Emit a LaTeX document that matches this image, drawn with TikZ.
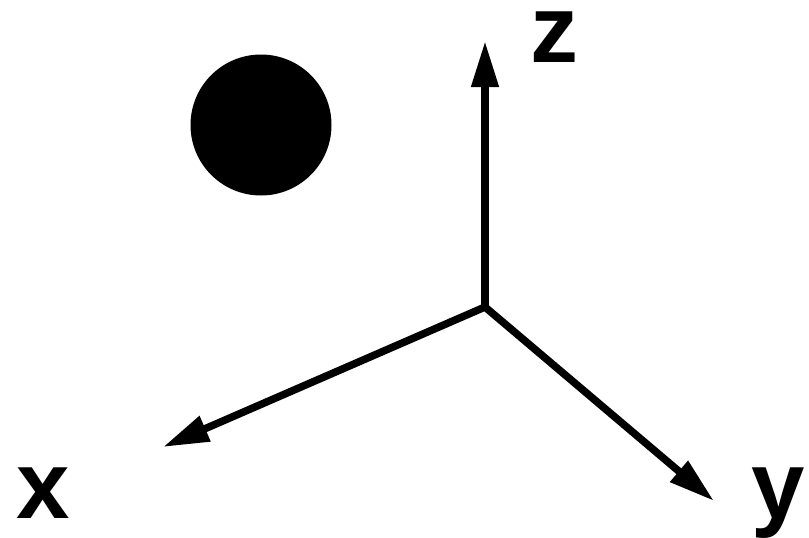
\documentclass[tikz,border=0pt]{standalone}
\usepackage{fontspec}
\setmainfont{Liberation Sans}
\usetikzlibrary{arrows.meta}
\begin{document}
\begin{tikzpicture}[x=1pt,y=-1pt,
  axis/.style={line width=7.5pt,-{Triangle[length=46pt,width=26pt]}},
  lbl/.style={font=\bfseries\fontsize{96}{96}\selectfont,inner sep=0pt,anchor=base}]
\useasboundingbox (0,0) rectangle (809,538);
\coordinate (o) at (485,307);
\coordinate (zt) at (485,41);
\coordinate (xt) at (163,447);
\coordinate (yt) at (714,501);
\draw[axis] (o) -- (zt);
\draw[axis] (o) -- (xt);
\draw[axis] (o) -- (yt);
\fill (261,125) circle (70.5);
\node[lbl] (zl) at (554,62) {z};
\node[lbl] (xl) at (43,518) {x};
\node[lbl] (yl) at (778,518) {y};
\end{tikzpicture}
\end{document}
